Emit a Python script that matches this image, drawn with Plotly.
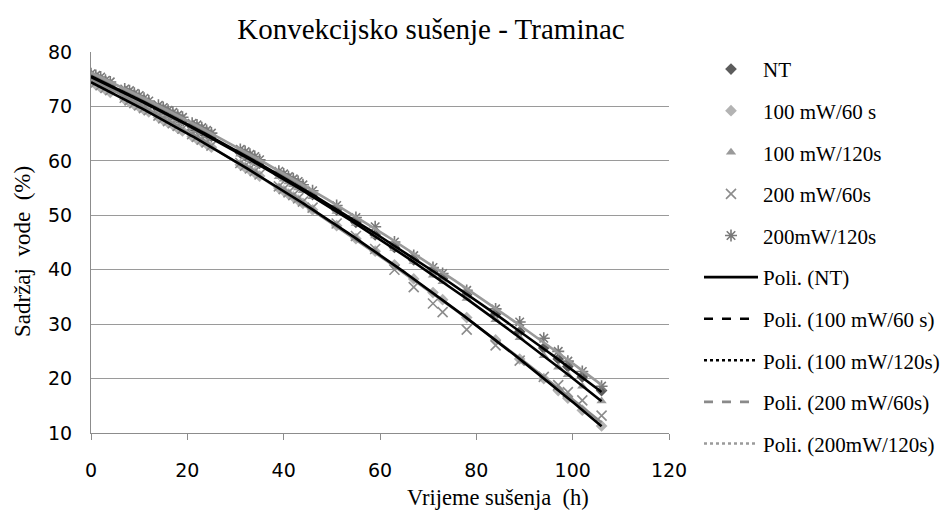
import numpy as np
import plotly.graph_objects as go

# ---- data ----
t = [0, 1, 2, 3, 4, 7, 8, 9, 10, 11, 12, 14, 15, 16, 17, 18, 19, 21, 22, 23, 24, 25,
     31, 32, 33, 34, 35, 39, 40, 41, 42, 43, 44, 46, 51, 55, 59, 63, 67, 71, 73, 78,
     84, 89, 94, 97, 99, 102, 106]

nt = [75.6, 75.0, 74.6, 74.2, 73.8, 72.5, 72.0, 71.7, 71.2, 70.8, 70.4, 69.5, 69.0, 68.6,
      68.2, 67.7, 67.3, 66.3, 65.9, 65.4, 65.0, 64.5, 61.5, 61.0, 60.5, 60.1, 59.6, 57.6,
      57.1, 56.6, 56.0, 55.5, 55.0, 53.8, 51.0, 48.7, 46.4, 44.1, 41.8, 39.6, 38.4, 35.4,
      31.8, 28.6, 25.6, 23.6, 22.2, 20.3, 17.8]

mw100_60 = [74.6, 74.0, 73.5, 73.1, 72.6, 71.3, 70.8, 70.3, 69.9, 69.4, 69.0, 68.0, 67.5,
            67.0, 66.6, 66.0, 65.5, 64.5, 64.0, 63.5, 63.1, 62.5, 59.3, 58.8, 58.3, 57.8,
            57.2, 55.0, 54.5, 53.9, 53.4, 52.8, 52.2, 51.0, 48.1, 45.7, 43.4, 40.9, 38.3,
            35.8, 34.5, 31.2, 27.1, 23.6, 20.0, 17.8, 16.4, 14.2, 11.3]

mw100_120 = [75.4, 75.0, 74.6, 74.2, 73.7, 72.4, 72.0, 71.6, 71.1, 70.7, 70.2, 69.3, 68.9,
             68.4, 68.0, 67.5, 67.0, 66.1, 65.6, 65.2, 64.7, 64.2, 61.2, 60.7, 60.2, 59.7,
             59.2, 57.1, 56.6, 56.1, 55.6, 55.0, 54.5, 53.4, 50.7, 48.5, 46.2, 43.9, 41.5,
             39.0, 37.8, 34.7, 30.8, 27.5, 24.2, 22.1, 20.7, 18.6, 15.9]

mw200_60 = [74.9, 74.4, 73.9, 73.4, 73.0, 71.6, 71.1, 70.6, 70.2, 69.7, 69.3, 68.3, 67.8,
            67.3, 66.9, 66.4, 65.9, 64.9, 64.4, 63.9, 63.4, 62.8, 59.6, 59.1, 58.6, 58.1,
            57.5, 55.3, 54.8, 54.2, 53.7, 53.1, 52.5, 51.4, 48.5, 46.2, 43.8, 40.0, 36.8,
            33.8, 32.2, 29.0, 26.1, 23.3, 20.3, 18.8, 17.5, 16.0, 13.2]

mw200_120 = [76.0, 75.7, 75.4, 74.8, 74.5, 73.2, 72.9, 72.4, 72.0, 71.5, 71.0, 70.2, 69.8,
             69.3, 68.9, 68.4, 68.0, 66.9, 66.6, 66.1, 65.6, 65.1, 62.1, 61.7, 61.2, 60.8,
             60.2, 58.1, 57.6, 57.1, 56.7, 56.2, 55.6, 54.5, 51.8, 49.6, 47.9, 45.1, 42.6,
             40.4, 39.3, 36.2, 32.8, 30.4, 27.4, 25.0, 23.2, 21.3, 18.6]

names = ["NT", "100 mW/60 s", "100 mW/120s", "200 mW/60s", "200mW/120s"]
series = [nt, mw100_60, mw100_120, mw200_60, mw200_120]

x_ticks = [0, 20, 40, 60, 80, 100, 120]
y_ticks = [10, 20, 30, 40, 50, 60, 70, 80]

# ---- styles ----
marker_styles = [
    dict(symbol="diamond", size=9, color="#5c5c5c"),
    dict(symbol="diamond", size=9, color="#b3b3b3"),
    dict(symbol="triangle-up", size=9, color="#9a9a9a"),
    dict(symbol="x-thin-open", size=10, color="#8c8c8c", line=dict(color="#8c8c8c", width=1.6)),
    dict(symbol="asterisk-open", size=10, color="#7a7a7a", line=dict(color="#7a7a7a", width=1.6)),
]
line_colors = ["black", "black", "black", "#8a8a8a", "#9a9a9a"]
line_dash = ["solid", "dash", "dot", "dash", "dot"]

serif = "Liberation Serif"
W, H = 943, 507          # page body has an 8px margin
L, R, T, B = 83, 282, 44, 82
pw, ph = W - L - R, H - T - B

fig = go.Figure()

# markers
for i, (nm, ys) in enumerate(zip(names, series)):
    fig.add_trace(go.Scatter(x=t, y=ys, mode="markers", name=nm, marker=marker_styles[i],
                             legendgroup="m%d" % i, showlegend=True))

# polynomial trendlines (order 2 fit to each series)
xs = np.linspace(min(t), max(t), 200)
order = [3, 4, 1, 0, 2]  # grays first, blacks on top
for i in order:
    c = np.polyfit(t, series[i], 2)
    fig.add_trace(go.Scatter(x=xs, y=np.polyval(c, xs), mode="lines", showlegend=False,
                             line=dict(color=line_colors[i], width=2.6), hoverinfo="skip"))

# legend entries for trendlines
for i, nm in enumerate(names):
    fig.add_trace(go.Scatter(x=[None], y=[None], mode="lines", name="Poli. (%s)" % nm,
                             legendgroup="l%d" % i,
                             line=dict(color=line_colors[i], width=2.6, dash=line_dash[i])))

fig.update_layout(
    width=W, height=H,
    margin=dict(l=L, r=R, t=T, b=B, autoexpand=False),
    paper_bgcolor="white", plot_bgcolor="white",
    title=dict(text="Konvekcijsko sušenje - Traminac", x=423 / W, xref="container",
               xanchor="center", y=1 - 21 / H, yanchor="middle",
               font=dict(family=serif, size=29, color="black")),
    showlegend=True,
    legend=dict(x=(691 - L) / pw, y=1.008, xanchor="left", yanchor="top",
                font=dict(family=serif, size=21, color="black"),
                traceorder="grouped", tracegroupgap=11.3, itemwidth=54,
                maxheight=1.0,
                bgcolor="rgba(0,0,0,0)"),
    xaxis=dict(range=[0, 120], tickvals=x_ticks, ticktext=[str(v) for v in x_ticks],
               showgrid=False, zeroline=False, showline=True, linecolor="#8c8c8c", linewidth=1.2,
               ticks="outside", ticklen=6, tickcolor="#8c8c8c", ticklabelstandoff=14,
               tickfont=dict(family="DejaVu Sans", size=19, color="black")),
    yaxis=dict(range=[10, 80], tickvals=y_ticks, ticktext=[str(v) for v in y_ticks],
               showgrid=True, gridcolor="#9a9a9a", gridwidth=1.2, zeroline=False,
               showline=True, linecolor="#8c8c8c", linewidth=1.2, ticks="",
               ticklabelstandoff=14,
               tickfont=dict(family="DejaVu Sans", size=19, color="black")),
    annotations=[
        dict(text="Vrijeme sušenja  (h)", xref="paper", yref="paper",
             x=(490 - L) / pw, y=-(489 - (H - B)) / ph, xanchor="center", yanchor="middle",
             showarrow=False, font=dict(family=serif, size=22.5, color="black")),
        dict(text="Sadržaj  vode  (%)", xref="paper", yref="paper", textangle=-90,
             x=-(L - 14) / pw, y=1 - (244 - T) / ph, xanchor="center", yanchor="middle",
             showarrow=False, font=dict(family=serif, size=23, color="black")),
    ],
)

fig.write_html("out.html")
